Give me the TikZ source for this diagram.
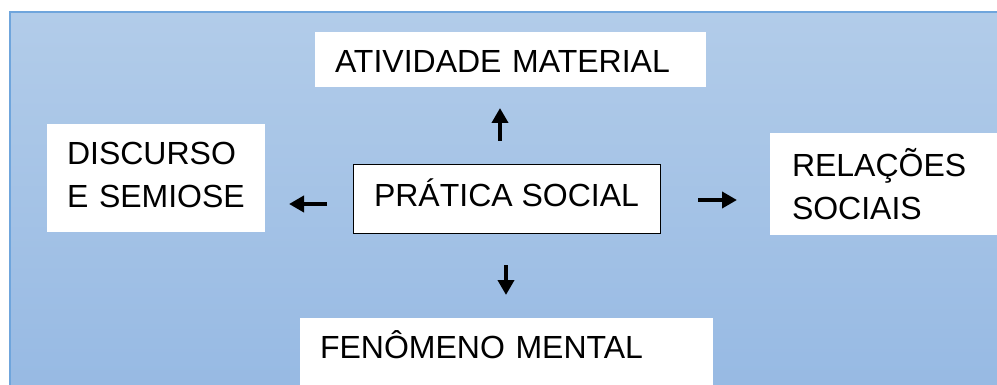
\documentclass[tikz,border=0pt]{standalone}
\usepackage{fontspec}
\setmainfont{Liberation Sans}
\usetikzlibrary{arrows.meta,calc}
\definecolor{ink}{HTML}{000000}
\definecolor{edge}{HTML}{6FA5DC}
\definecolor{bgtop}{HTML}{B2CCE9}
\definecolor{bgbot}{HTML}{96B9E3}

\begin{document}
\begin{tikzpicture}[x=1pt,y=-1pt,text=ink,
  box/.style={fill=white,inner ysep=0pt,align=left,
    font=\fontsize{32}{43}\selectfont},
  flow/.style={-{Triangle[length=15pt,width=16pt]},line width=4pt,draw=ink}]

\clip (0,0) rectangle (997,385);
\fill[white] (0,0) rectangle (997,385);

% background panel
\shade[top color=bgtop,bottom color=bgbot,draw=edge,line width=1.5pt]
  (10,12) rectangle (1010,400);

% the five boxes
\node[box,inner xsep=20pt,text width=351pt,minimum height=55pt,
  text height=32pt,text depth=5pt] (mat) at (510.5,59.5)
  {ATIVIDADE MATERIAL};
\node[box,inner xsep=20pt,text width=178pt,minimum height=108pt,
  text depth=49pt] (disc) at (156,178)
  {DISCURSO\\E SEMIOSE};
\node[box,draw=ink,line width=1pt,align=center,minimum width=307pt,
  minimum height=69pt,text height=23pt,text depth=8pt] (prat) at (506.5,199.5)
  {PRÁTICA SOCIAL};
\node[box,inner xsep=22pt,text width=200pt,minimum height=102pt] (rel) at (892,184)
  {RELAÇÕES\\SOCIAIS};
\node[box,inner xsep=20pt,text width=373pt,minimum height=74pt,
  text height=23pt,text depth=17pt] (ment) at (506.5,355)
  {FENÔMENO MENTAL};

% free-standing arrows around the centre box
\coordinate (upa) at (500,141);
\coordinate (upb) at (500,108);
\coordinate (lfa) at (327,204);
\coordinate (lfb) at (289,204);
\coordinate (rta) at (698,200);
\coordinate (rtb) at (737,200);
\coordinate (dna) at (506,265);
\coordinate (dnb) at (506,295);
\draw[flow] (upa)--(upb);
\draw[flow] (lfa)--(lfb);
\draw[flow] (rta)--(rtb);
\draw[flow] (dna)--(dnb);
\end{tikzpicture}
\end{document}
